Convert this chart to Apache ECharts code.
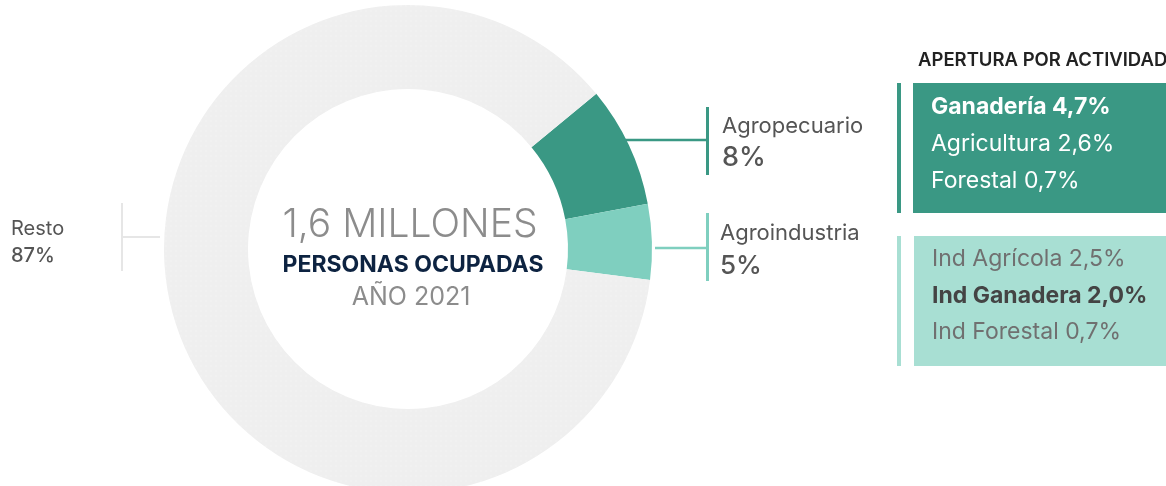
<!DOCTYPE html>
<html>
<head>
<meta charset="utf-8">
<script src="https://cdn.jsdelivr.net/npm/echarts@6/dist/echarts.min.js"></script>
<style>
  html, body { margin: 0; padding: 0; background: #fff; }
  #chart { width: 1166px; height: 486px; }
</style>
</head>
<body>
<div id="chart"></div>
<script>
const categories = ['Agropecuario', 'Agroindustria', 'Resto']
const shares = [8, 5, 87]
const sliceColors = ['#3a9884', '#7fcfbf', '#efefef']

const agroNames = ['Ganadería', 'Agricultura', 'Forestal']
const agroValues = ['4,7', '2,6', '0,7']
const indNames = ['Ind Agrícola', 'Ind Ganadera', 'Ind Forestal']
const indValues = ['2,5', '2,0', '0,7']

const centerLines = ['1,6 MILLONES', 'PERSONAS OCUPADAS', 'AÑO 2021']
const boxTitle = 'APERTURA POR ACTIVIDAD'

const font = 'Inter, "Noto Sans", sans-serif'
const chart = echarts.init(document.getElementById('chart'))

// pequeñas helpers para el graphic
const txt = (x, y, text, size, color, weight, align) => ({
  type: 'text', x, y,
  style: { text, fontSize: size, fill: color, fontWeight: weight || 'normal',
    fontFamily: font, textAlign: align || 'left', textVerticalAlign: 'middle' }
})
const rect = (x, y, w, h, color) => ({
  type: 'rect', shape: { x, y, width: w, height: h }, style: { fill: color }
})
const line = (x1, y1, x2, y2, color, w) => ({
  type: 'line', shape: { x1, y1, x2, y2 }, style: { stroke: color, lineWidth: w }
})

const graphics = [
  // lineas de etiqueta
  line(625, 140, 708, 140, sliceColors[0], 2.5),
  rect(706, 107, 3, 68, sliceColors[0]),
  line(655, 248, 708, 248, sliceColors[1], 2.5),
  rect(706, 213, 3, 68, sliceColors[1]),
  line(122, 237, 160, 237, '#e6e6e6', 2),
  rect(121, 203, 2, 68, '#e6e6e6'),

  txt(722, 126, categories[0], 22, '#555'),
  txt(722, 158, shares[0] + '%', 27, '#555', 500),
  txt(720, 233, categories[1], 22, '#555'),
  txt(720, 266, shares[1] + '%', 26, '#555', 500),
  txt(11, 229, categories[2], 20, '#555'),
  txt(11, 256, shares[2] + '%', 20, '#555', 500),

  // centro
  txt(410, 225, centerLines[0], 39, '#8c8c8c', 300, 'center'),
  txt(413, 265, centerLines[1], 23, '#0d2341', 'bold', 'center'),
  txt(411, 297, centerLines[2], 25, '#8c8c8c', 'normal', 'center'),

  // cajas de apertura
  txt(918, 60, boxTitle, 18.5, '#222', 600),
  rect(897, 83, 4, 130, sliceColors[0]),
  rect(913, 83, 260, 130, sliceColors[0]),
  rect(897, 236, 4, 130, '#a8dfd3'),
  rect(914, 236, 260, 130, '#a8dfd3')
]

const ys1 = [107, 144, 181]
agroNames.forEach((n, i) => {
  graphics.push(txt(931, ys1[i], n + ' ' + agroValues[i] + '%', 23, '#fff', i === 0 ? 'bold' : 'normal'))
})
const ys2 = [259, 296, 332]
indNames.forEach((n, i) => {
  graphics.push(txt(932, ys2[i], n + ' ' + indValues[i] + '%', 23, i === 1 ? '#444' : '#707070', i === 1 ? 'bold' : 'normal'))
})

chart.setOption({
  animation: false,
  series: [{
    type: 'pie',
    center: [408, 249],
    radius: [160, 244],
    startAngle: 39.5,
    clockwise: true,
    label: { show: false },
    labelLine: { show: false },
    emphasis: { disabled: true },
    data: categories.map((c, i) => {
      const item = { name: c, value: shares[i], itemStyle: { color: sliceColors[i] } }
      if (i === 2) {
        // textura punteada suave del "Resto"
        item.itemStyle.decal = {
          symbol: 'rect', symbolSize: 0.5,
          color: 'rgba(255,255,255,0.7)',
          dashArrayX: [2, 3], dashArrayY: [2, 3]
        }
      }
      return item
    })
  }],
  graphic: graphics
})
</script>
</body>
</html>
